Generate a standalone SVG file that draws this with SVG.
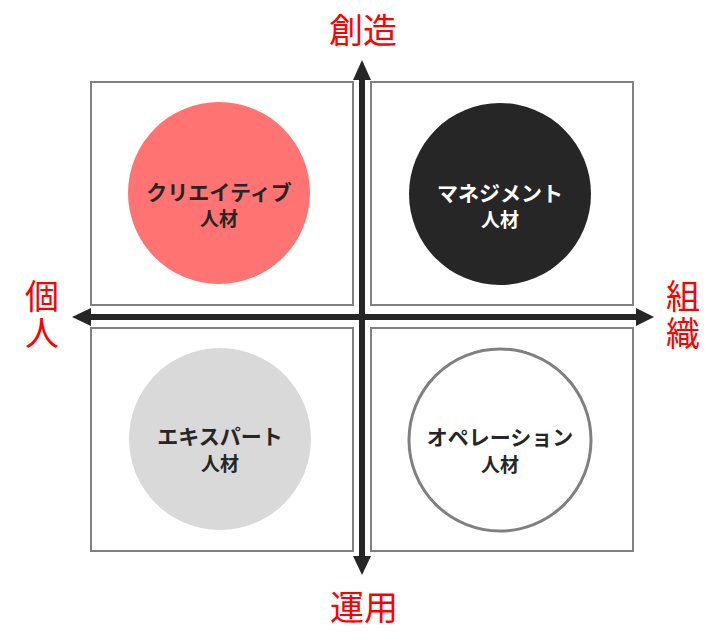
<svg xmlns="http://www.w3.org/2000/svg" width="717" height="643" viewBox="0 0 717 643">
<style>
.box{fill:#fff;stroke:#808080;stroke-width:2}
.lbl{font-family:"Noto Sans CJK JP","Noto Sans",sans-serif;font-size:34px;fill:#ff0000;text-anchor:middle}
.v{writing-mode:vertical-rl;text-anchor:start;letter-spacing:3px}
.t{font-family:"Noto Sans CJK JP","Noto Sans",sans-serif;font-size:21px;font-weight:bold;fill:#262626;text-anchor:middle}
.t2{font-size:19px}
.w{fill:#fff}
.ax{stroke:#262626;stroke-width:6;fill:none}
.hd{fill:#262626}
</style>
<rect width="717" height="643" fill="#fff"/>
<g id="q-tl"><rect class="box" x="91" y="82" width="262" height="223"/></g>
<g id="q-tr"><rect class="box" x="371" y="82" width="262" height="223"/></g>
<g id="q-bl"><rect class="box" x="91" y="328" width="262" height="223"/></g>
<g id="q-br"><rect class="box" x="371" y="328" width="262" height="223"/></g>
<g id="connectors">
<line class="ax" x1="362" y1="76" x2="362" y2="560"/>
<polygon class="hd" points="362,60 353,80 371,80"/>
<polygon class="hd" points="362,575 353,556 371,556"/>
<line class="ax" x1="86" y1="317" x2="640" y2="317"/>
<polygon class="hd" points="72,317 91,308 91,326"/>
<polygon class="hd" points="654,317 636,308 636,326"/>
</g>
<g id="creative">
<circle cx="219" cy="193" r="91" fill="#ff7373"/>
<text class="t" x="219" y="200">クリエイティブ</text>
<text class="t t2" x="219" y="226">人材</text>
</g>
<g id="management">
<circle cx="500" cy="194" r="91" fill="#262626"/>
<text class="t w" x="500" y="201">マネジメント</text>
<text class="t t2 w" x="500" y="227">人材</text>
</g>
<g id="expert">
<circle cx="220" cy="439" r="91" fill="#d9d9d9"/>
<text class="t" x="220" y="444">エキスパート</text>
<text class="t t2" x="220" y="471">人材</text>
</g>
<g id="operation">
<circle cx="500" cy="440" r="91" fill="#fff" stroke="#808080" stroke-width="3"/>
<text class="t" x="500" y="445">オペレーション</text>
<text class="t t2" x="500" y="472">人材</text>
</g>
<g id="labels">
<text class="lbl" x="363" y="43">創造</text>
<text class="lbl" x="364" y="620">運用</text>
<text class="lbl v" x="42" y="279">個人</text>
<text class="lbl v" x="683" y="279">組織</text>
</g>
</svg>
